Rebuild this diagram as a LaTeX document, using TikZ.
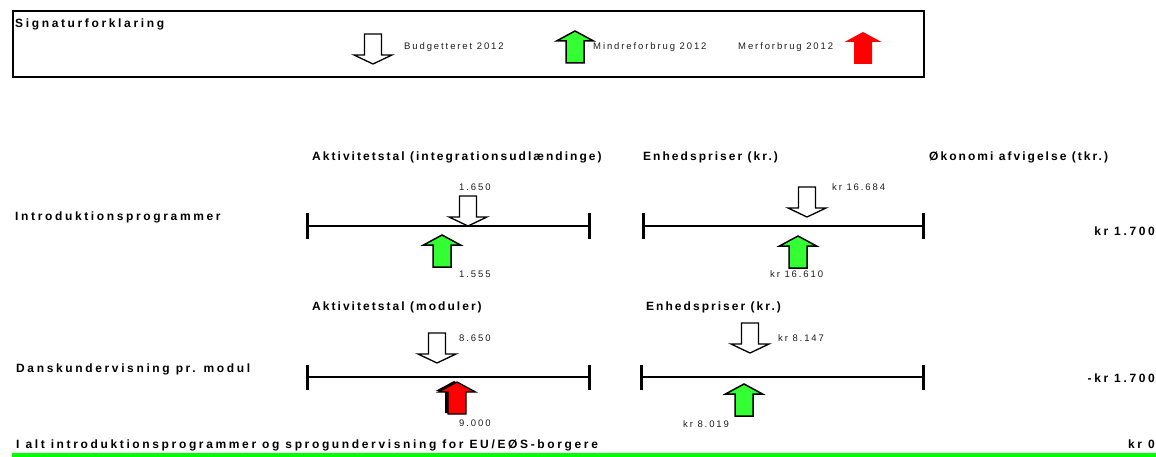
\documentclass[tikz,border=0pt]{standalone}
\usepackage{fontspec}
\setmainfont{Liberation Sans}
\newfontfamily\lblfont[LetterSpace=22]{Liberation Sans}
\newfontfamily\headfont[LetterSpace=17]{Liberation Sans}
\newfontfamily\numfont[LetterSpace=20]{Liberation Sans}
\definecolor{mygreen}{RGB}{51,255,51}
\definecolor{linegreen}{RGB}{0,255,0}
\definecolor{myred}{RGB}{255,0,0}
\definecolor{numgray}{RGB}{30,30,30}
\tikzset{
  bold/.style={inner sep=0pt, anchor=base west, font=\lblfont\bfseries\fontsize{12}{14}\selectfont},
  boldr/.style={bold, anchor=base east},
  head/.style={inner sep=0pt, anchor=base west, font=\headfont\bfseries\fontsize{12}{14}\selectfont},
  small/.style={inner sep=0pt, anchor=base west, text=numgray, font=\numfont\fontsize{9.5}{11}\selectfont},
  barline/.style={line width=2pt},
  tickline/.style={line width=3pt},
  budgetstyle/.style={fill=white, draw=black, line width=1.3pt, line join=miter},
  lessstyle/.style={fill=mygreen, draw=black, line width=1.5pt, line join=miter},
  morestyle/.style={fill=myred, draw=none},
  morestyleb/.style={fill=myred, draw=black, line width=1.3pt, line join=miter},
  pics/downarr/.style={code={
    \draw[budgetstyle] (0,0) -- (-19,-9) -- (-8.5,-9) -- (-8.5,-30) -- (8.5,-30) -- (8.5,-9) -- (19,-9) -- cycle;}},
  pics/uparr/.style={code={
    \draw[#1] (0,0) -- (-18.5,10) -- (-9,10) -- (-9,32) -- (9,32) -- (9,10) -- (18.5,10) -- cycle;}},
  pics/uparrshadow/.style={code={
    \fill[black] (-3,-1) -- (-21.5,9) -- (-12,9) -- (-12,31) -- (6,31) -- (6,9) -- (15.5,9) -- cycle;
    \draw[morestyleb] (0,0) -- (-18.5,10) -- (-9,10) -- (-9,32) -- (9,32) -- (9,10) -- (18.5,10) -- cycle;}},
}
\begin{document}
\begin{tikzpicture}[x=1pt, y=-1pt]
\useasboundingbox (0,0) rectangle (1156,457);

% legend
\draw[line width=2pt] (13,11) rectangle (924,77);
\node[bold] (sig) at (15,28) {Signaturforklaring};
\pic at (373,64) {downarr};
\node[small] (lbud) at (404,50) {Budgetteret 2012};
\pic at (575,31) {uparr=lessstyle};
\node[small] (lmin) at (593,50) {Mindreforbrug 2012};
\node[small] (lmer) at (738,50) {Merforbrug 2012};
\pic at (863,32) {uparr=morestyle};

% headings row 1
\node[head] (h1a) at (312,161) {Aktivitetstal (integrationsudlændinge)};
\node[head] (h1b) at (643,161) {Enhedspriser (kr.)};
\node[head] (h1c) at (929,161) {Økonomi afvigelse (tkr.)};
\node[bold] (r1) at (15,221) {Introduktionsprogrammer};

% row 1 bars
\coordinate (a1l) at (307,226); \coordinate (a1r) at (589,226);
\coordinate (b1l) at (643,226); \coordinate (b1r) at (923,226);
\draw[barline] (a1l) -- (a1r);
\draw[tickline] ([yshift=-12.5pt]a1l) -- ([yshift=12.5pt]a1l);
\draw[tickline] ([yshift=-12.5pt]a1r) -- ([yshift=12.5pt]a1r);
\draw[barline] (b1l) -- (b1r);
\draw[tickline] ([yshift=-12.5pt]b1l) -- ([yshift=12.5pt]b1l);
\draw[tickline] ([yshift=-12.5pt]b1r) -- ([yshift=12.5pt]b1r);

\pic at (468,226) {downarr};
\node[small] (n1650) at (459,191) {1.650};
\pic at (442,235) {uparr=lessstyle};
\node[small] (n1555) at (459,277) {1.555};
\pic at (807,217) {downarr};
\node[small] (n16684) at (832,191) {kr 16.684};
\pic at (798,236) {uparr=lessstyle};
\node[small] (n16610) at (770,277) {kr 16.610};
\node[boldr] (v1) at (1155,235) {kr 1.700};

% row 2
\node[head] (h2a) at (312,310) {Aktivitetstal (moduler)};
\node[head] (h2b) at (646,310) {Enhedspriser (kr.)};
\node[bold] (r2) at (16,372) {Danskundervisning pr. modul};

\coordinate (a2l) at (307,377); \coordinate (a2r) at (589,377);
\coordinate (b2l) at (641,377); \coordinate (b2r) at (923,377);
\draw[barline] (a2l) -- (a2r);
\draw[tickline] ([yshift=-12.5pt]a2l) -- ([yshift=12.5pt]a2l);
\draw[tickline] ([yshift=-12.5pt]a2r) -- ([yshift=12.5pt]a2r);
\draw[barline] (b2l) -- (b2r);
\draw[tickline] ([yshift=-12.5pt]b2l) -- ([yshift=12.5pt]b2l);
\draw[tickline] ([yshift=-12.5pt]b2r) -- ([yshift=12.5pt]b2r);

\pic at (437,363) {downarr};
\node[small] (n8650) at (459,341) {8.650};
\pic at (457,382) {uparrshadow};
\node[small] (n9000) at (459,426) {9.000};
\pic at (750,353) {downarr};
\node[small] (n8147) at (778,341) {kr 8.147};
\pic at (744,384) {uparr=lessstyle};
\node[small] (n8019) at (683,427) {kr 8.019};
\node[boldr] (v2) at (1155,382) {-kr 1.700};

% total
\node[bold] (tot) at (16,448) {I alt introduktionsprogrammer og sprogundervisning for EU/EØS-borgere};
\node[boldr] (v3) at (1155,448) {kr 0};
\coordinate (gl) at (12,455); \coordinate (gr) at (1156,455);
\draw[linegreen, line width=4pt] (gl) -- (gr);
\end{tikzpicture}
\end{document}
